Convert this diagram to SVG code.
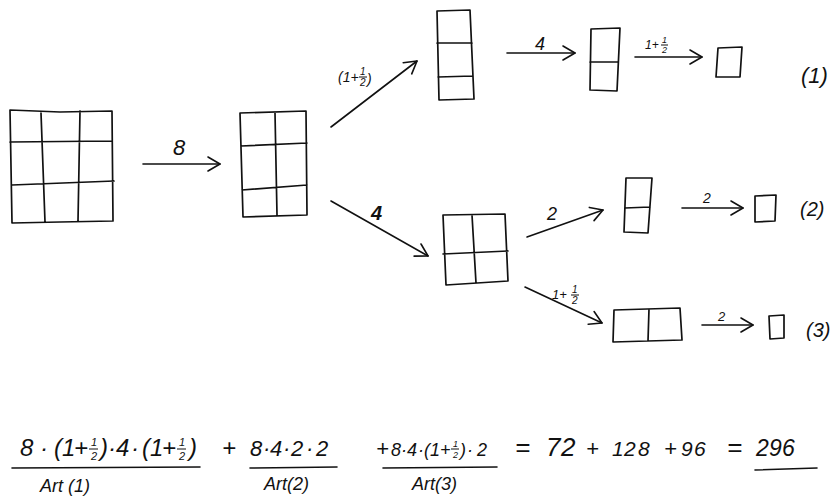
<svg xmlns="http://www.w3.org/2000/svg" width="834" height="499" viewBox="0 0 834 499">
<style>
.b{fill:none;stroke:#111;stroke-width:1.7;stroke-linejoin:round;stroke-linecap:round}
.c{fill:none;stroke:#111;stroke-width:1.6;stroke-linecap:round}
.t{font-family:"Liberation Sans",Arial,sans-serif;font-style:italic;fill:#111}
.fb{stroke:#111;stroke-width:1}
</style>
<defs>
<marker id="ah" markerUnits="userSpaceOnUse" markerWidth="20" markerHeight="20" viewBox="-16 -10 20 20" refX="0" refY="0" orient="auto" overflow="visible">
<path d="M-12,-7 L0,0 L-12,7" fill="none" stroke="#111" stroke-width="1.6" stroke-linecap="round" stroke-linejoin="round"/>
</marker>
</defs>
<rect width="834" height="499" fill="#fff"/>

<g id="nodeA">
<path class="b" d="M10,110 L60,112 L112,111 L113,221 L60,222 L12,223 Z M10,142 L112,141 M12,185 L114,181 M41,113 L45,222 M80,111 L78,221"/>
</g>
<g id="nodeB">
<path class="b" d="M240,113 L306,111 L307,215 L243,217 Z M241,146 L307,143 M242,190 L307,185 M275,113 L277,215"/>
</g>
<g id="nodeC">
<path class="b" d="M437,11 L470,10 L474,99 L439,100 Z M437,43 L472,43 M438,77 L473,76"/>
</g>
<g id="nodeD">
<path class="b" d="M591,29 L620,28 L617,91 L590,90 Z M590,62 L618,62"/>
</g>
<g id="nodeE">
<path class="b" d="M718,48 L742,47 L740,77 L716,77 Z"/>
</g>
<g id="nodeF">
<path class="b" d="M443,215 L505,214 L508,281 L446,285 Z M443,254 L508,251 M472,215 L476,283"/>
</g>
<g id="nodeG">
<path class="b" d="M626,178 L652,178 L648,233 L624,232 Z M625,208 L650,207"/>
</g>
<g id="nodeH">
<path class="b" d="M755,196 L776,195 L775,221 L755,222 Z"/>
</g>
<g id="nodeI">
<path class="b" d="M614,310 L680,308 L682,340 L613,342 Z M649,309 L648,341"/>
</g>
<g id="nodeJ">
<path class="b" d="M769,316 L784,315 L784,338 L770,339 Z"/>
</g>

<g id="connectors">
<line class="c" x1="143" y1="164" x2="220" y2="164" marker-end="url(#ah)"/>
<line class="c" x1="331" y1="127" x2="417" y2="61" marker-end="url(#ah)"/>
<line class="c" x1="507" y1="53" x2="575" y2="53" marker-end="url(#ah)"/>
<line class="c" x1="635" y1="57" x2="702" y2="57" marker-end="url(#ah)"/>
<line class="c" x1="331" y1="201" x2="428" y2="256" marker-end="url(#ah)"/>
<line class="c" x1="527" y1="237" x2="603" y2="210" marker-end="url(#ah)"/>
<line class="c" x1="682" y1="208" x2="743" y2="208" marker-end="url(#ah)"/>
<line class="c" x1="525" y1="287" x2="602" y2="323" marker-end="url(#ah)"/>
<line class="c" x1="702" y1="325" x2="753" y2="325" marker-end="url(#ah)"/>

<text class="t" x="173" y="155" font-size="22">8</text>
<text class="t" x="338" y="82" font-size="14">(1+</text>
<text class="t" x="360" y="75" font-size="10">1</text>
<line class="fb" x1="359" y1="77" x2="367" y2="77"/>
<text class="t" x="360" y="86" font-size="10">2</text>
<text class="t" x="367" y="84" font-size="14">)</text>
<text class="t" x="535" y="50" font-size="18">4</text>
<text class="t" x="645" y="49" font-size="12">1+</text>
<text class="t" x="662" y="43" font-size="9">1</text>
<line class="fb" x1="661" y1="45" x2="668" y2="45"/>
<text class="t" x="662" y="53" font-size="9">2</text>
<text class="t" x="371" y="220" font-size="20" font-weight="bold">4</text>
<text class="t" x="547" y="220" font-size="18">2</text>
<text class="t" x="703" y="203" font-size="14">2</text>
<text class="t" x="552" y="299" font-size="13">1+</text>
<text class="t" x="572" y="293" font-size="10">1</text>
<line class="fb" x1="571" y1="295" x2="579" y2="295"/>
<text class="t" x="572" y="304" font-size="10">2</text>
<text class="t" x="718" y="321" font-size="13">2</text>
</g>

<text class="t" x="801" y="83" font-size="22">(1)</text>
<text class="t" x="800" y="216" font-size="20">(2)</text>
<text class="t" x="806" y="337" font-size="20">(3)</text>

<g id="formula">
<text class="t" x="20 40 54 62 74" y="456" font-size="24">8·(1+</text>
<text class="t" x="91" y="446" font-size="11">1</text>
<line class="fb" x1="89" y1="449" x2="98" y2="449"/>
<text class="t" x="91" y="460" font-size="11">2</text>
<text class="t" x="100 108 116 131 142 150 162" y="456" font-size="24">)·4·(1+</text>
<text class="t" x="179" y="446" font-size="11">1</text>
<line class="fb" x1="177" y1="449" x2="186" y2="449"/>
<text class="t" x="179" y="460" font-size="11">2</text>
<text class="t" x="189" y="456" font-size="24">)</text>
<line class="c" x1="12" y1="468" x2="200" y2="467"/>
<text class="t" x="40" y="492" font-size="18">Art (1)</text>

<text class="t" x="222" y="456" font-size="24">+</text>
<text class="t" x="250 263 270 283 291 306 316" y="456" font-size="22">8·4·2·2</text>
<line class="c" x1="250" y1="468" x2="337" y2="467"/>
<text class="t" x="264" y="490" font-size="18">Art(2)</text>

<text class="t" x="376" y="456" font-size="22">+</text>
<text class="t" x="391 401 407 418 424 430 440" y="456" font-size="18">8·4·(1+</text>
<text class="t" x="453" y="447" font-size="9">1</text>
<line class="fb" x1="451" y1="449" x2="459" y2="449"/>
<text class="t" x="453" y="458" font-size="9">2</text>
<text class="t" x="460 467 477" y="456" font-size="18">)·2</text>
<line class="c" x1="383" y1="468" x2="497" y2="467"/>
<text class="t" x="412" y="490" font-size="18">Art(3)</text>

<text class="t" x="515 546 561" y="456" font-size="26">=72</text>
<text class="t" x="586" y="456" font-size="22">+</text>
<text class="t" x="612 624 638" y="456" font-size="21">128</text>
<text class="t" x="664" y="456" font-size="22">+</text>
<text class="t" x="681 694" y="456" font-size="21">96</text>
<text class="t" x="727" y="456" font-size="26">=</text>
<text class="t" x="756 769 782" y="456" font-size="23">296</text>
<line class="c" x1="755" y1="470" x2="817" y2="468"/>
</g>
</svg>
